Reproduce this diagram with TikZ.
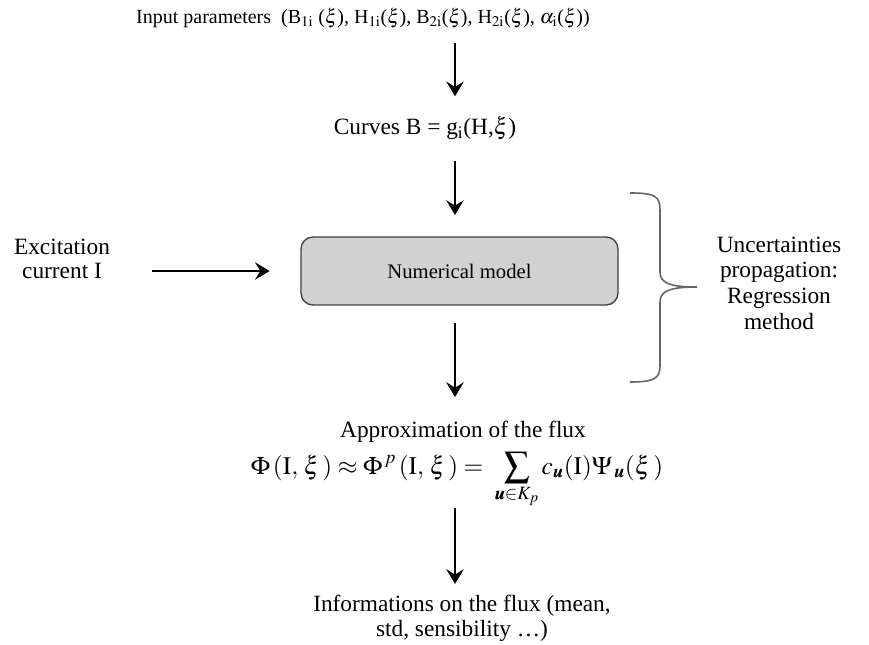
\documentclass[tikz,border=0pt]{standalone}
\usepackage{amsmath}
\usepackage{mathptmx}
\usepackage{bm}
\usepackage[no-math]{fontspec}
\setmainfont{Liberation Serif}
\newfontfamily\timesfont{Liberation Serif}
\usetikzlibrary{arrows.meta}
\tikzset{
  txt/.style = {align=center, inner sep=0pt, font=\timesfont\fontsize{17.5}{18.5}\selectfont},
  modelbox/.style = {draw=black!75, fill=black!18, line width=1pt, rounded corners=9pt,
                     minimum width=237.75pt, minimum height=51pt, font=\timesfont\fontsize{15.5}{18}\selectfont},
  flow/.style = {->, line width=2.2pt},
  bracecol/.style = {draw=black!60, line width=1.2pt}
}

\begin{document}
\begin{tikzpicture}[x=0.75pt,y=-0.75pt,>={Stealth[length=11pt,width=13pt,inset=4pt]}]
  \useasboundingbox (0,0) rectangle (869,644);
  \coordinate (axis) at (455,0);
  % texts and the model
  \node [txt, font=\timesfont\fontsize{15}{18}\selectfont] (input) at (363,18) {Input parameters\ \ (B$_{\mathrm{1i}}$ ($\xi$), H$_{\mathrm{1i}}$($\xi$), B$_{\mathrm{2i}}$($\xi$), H$_{\mathrm{2i}}$($\xi$), $\alpha_{\mathrm{i}}$($\xi$))};
  \node [txt] (curves) at (425,128) {Curves B = g$_{\mathrm{i}}$(H,$\xi$)};
  \node [modelbox] (model) at (459.5,271) {Numerical model};
  \node [txt] (excitation) at (62,259) {Excitation\\current I};
  \node [txt, font=\timesfont\fontsize{17.5}{19.3}\selectfont] (uncert) at (779,283) {Uncertainties\\propagation:\\Regression\\method};
  \node [txt] (approx) at (463,432) {Approximation of the flux};
  \node [txt, anchor=base, font=\fontsize{19}{21}\selectfont] (formula) at (457,474)
    {$\displaystyle \Phi\,(\mathrm{I},\,\xi\,) \approx \Phi^{\,p}\,(\mathrm{I},\,\xi\,) = \;\sum_{\bm{u}\in K_p} c_{\bm{u}}(\mathrm{I})\Psi_{\,\bm{u}}(\xi\,)$};
  \node [txt] (info) at (462,618) {Informations on the flux (mean,\\std, sensibility \dots)};
  % connectors
  \draw [flow, shorten <=11pt, shorten >=15pt] (input.south -| axis) -- (curves.north -| axis);
  \draw [flow, shorten <=16pt, shorten >=16pt] (curves.south -| axis) -- (model.north -| axis);
  \draw [flow, shorten <=31pt, shorten >=23pt] (excitation.east |- model.west) -- (model.west);
  \draw [flow, shorten <=13pt, shorten >=18pt] (model.south -| axis) -- (approx.north -| axis);
  \draw [flow, shorten <=0pt, shorten >=8pt] (formula.south -| axis) -- (info.north -| axis);
  % brace
  \draw [bracecol] (630,193) .. controls (655,193) and (660,196) .. (660,210) -- (660,272)
    .. controls (660,283) and (670,287) .. (697,287)
    .. controls (670,287) and (660,291) .. (660,302) -- (660,366)
    .. controls (660,378) and (655,382) .. (630,382);
\end{tikzpicture}
\end{document}
